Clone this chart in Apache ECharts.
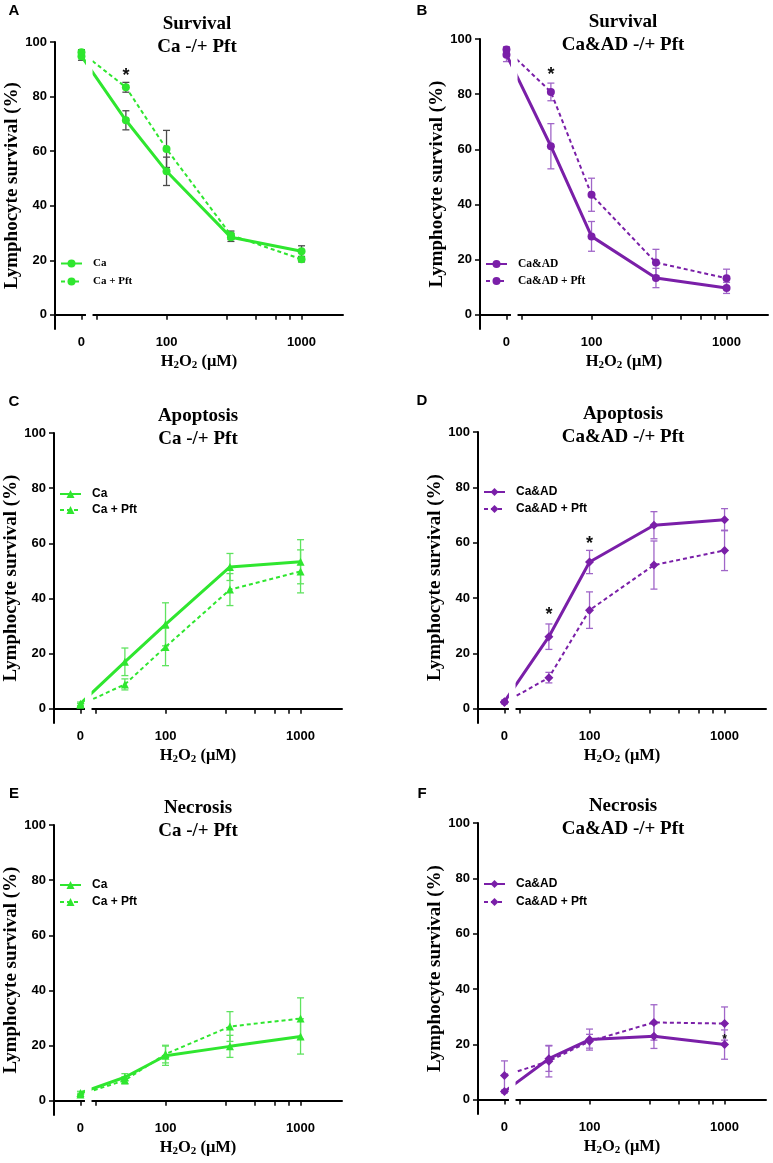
<!DOCTYPE html>
<html>
<head>
<meta charset="utf-8">
<script src="https://cdn.jsdelivr.net/npm/echarts@6/dist/echarts.min.js"></script>
<style>
html,body{margin:0;padding:0;background:#fff;}
#chart{width:773px;height:1163px;}
</style>
</head>
<body>
<div id="chart"></div>
<script>
// ---------------- DATA ----------------
const DOSES = [0, 50, 100, 300, 1000];            // H2O2 (µM)
const X_TICK_LABELS = [0, 100, 1000];
const X_MINOR_TICKS = [280, 460, 640, 820];
const Y_TICKS = [0, 20, 40, 60, 80, 100];

// A: Survival, Ca -/+ Pft
const A_CA = [94.8, 71.3, 52.6, 28.4, 23.3];
const A_CA_ERR = [1.5, 3.5, 5.2, 1.5, 2.0];
const A_PFT = [96.2, 83.4, 60.8, 29.2, 20.4];
const A_PFT_ERR = [1.0, 1.8, 6.8, 1.5, 1.0];
const A_STARS = [[50, 89.5]];

// B: Survival, Ca&AD -/+ Pft
const B_CA = [94.3, 61.1, 28.4, 13.3, 9.7];
const B_CA_ERR = [2.5, 8.2, 5.4, 3.5, 2.0];
const B_PFT = [96.2, 80.8, 43.5, 18.9, 13.2];
const B_PFT_ERR = [1.0, 3.2, 6.0, 4.8, 3.3];
const B_STARS = [[50, 88.7]];

// C: Apoptosis, Ca -/+ Pft
const C_CA = [1.8, 17.0, 30.6, 51.4, 53.3];
const C_CA_ERR = [0.6, 5.0, 7.8, 4.9, 8.0];
const C_PFT = [1.4, 8.8, 22.4, 43.2, 49.8];
const C_PFT_ERR = [0.5, 2.0, 6.8, 5.8, 7.8];
const C_STARS = [];

// D: Apoptosis, Ca&AD -/+ Pft
const D_CA = [2.5, 26.0, 53.0, 66.3, 68.3];
const D_CA_ERR = [0.6, 4.6, 4.2, 4.9, 4.0];
const D_PFT = [2.2, 11.2, 35.6, 51.9, 57.2];
const D_PFT_ERR = [0.5, 1.9, 6.6, 8.7, 7.3];
const D_STARS = [[50, 35.5], [100, 61.3]];

// E: Necrosis, Ca -/+ Pft
const E_CA = [2.8, 8.5, 16.3, 19.7, 23.3];
const E_CA_ERR = [0.6, 1.3, 3.5, 4.0, 6.4];
const E_PFT = [2.2, 7.4, 16.9, 26.9, 29.8];
const E_PFT_ERR = [0.5, 1.3, 3.2, 5.4, 7.5];
const E_STARS = [];

// F: Necrosis, Ca&AD -/+ Pft
const F_CA = [2.9, 14.8, 21.7, 22.9, 19.9];
const F_CA_ERR = [0.5, 4.6, 3.8, 4.4, 5.3];
const F_PFT = [8.7, 13.9, 21.1, 27.9, 27.5];
const F_PFT_ERR = [5.3, 5.7, 2.5, 6.4, 6.0];
const F_STARS = [[1000, 22.7]];

// ---------------- AXIS (broken: 0 | log10) ----------------
const U_MIN = 1.174, U_MAX = 3.307;   // axis extent in log10 units
const ZERO_U = 1.37;                   // position of the "0" segment tick
const SEG_U = 1.48;                    // start of log segment
const CLIP_U = 1.452;                  // where connecting lines reappear
function xu(d) { return d === 0 ? ZERO_U : Math.log10(d); }

const SERIF = "'Liberation Serif','Times New Roman',serif";
const SANS = "'Liberation Sans',Arial,sans-serif";
const GREEN = '#2fe62f', GREEN_ERR = '#5fe35f';
const PURPLE = '#7a1fa8', PURPLE_ERR = '#a066c8';

const PANELS = [
  {letter:'A', t:'Survival\nCa -/+ Pft', n1:'Ca', n2:'Ca + Pft', ca:A_CA, caE:A_CA_ERR, pf:A_PFT, pfE:A_PFT_ERR, stars:A_STARS,
   left:55, top:42, axisY:329, color:GREEN, err:'#4a4a4a', sym:'circle', symSize:8, legFont:SERIF, legSize:11, legGap:7, lx:14, ly:11, tx:197, ty:13, legTop:258, starSize:18},
  {letter:'B', t:'Survival\nCa&AD -/+ Pft', n1:'Ca&AD', n2:'Ca&AD + Pft', ca:B_CA, caE:B_CA_ERR, pf:B_PFT, pfE:B_PFT_ERR, stars:B_STARS,
   left:480, top:39, axisY:329, color:PURPLE, err:PURPLE_ERR, sym:'circle', symSize:8, legFont:SERIF, legSize:11.5, legGap:5, lx:422, ly:11, tx:623, ty:11, legTop:258, starSize:18},
  {letter:'C', t:'Apoptosis\nCa -/+ Pft', n1:'Ca', n2:'Ca + Pft', ca:C_CA, caE:C_CA_ERR, pf:C_PFT, pfE:C_PFT_ERR, stars:C_STARS,
   left:54, top:433, axisY:723, color:GREEN, err:GREEN_ERR, sym:'triangle', symSize:8, legFont:SANS, legSize:12, legGap:4, lx:14, ly:402, tx:198, ty:405, legTop:488, starSize:18},
  {letter:'D', t:'Apoptosis\nCa&AD -/+ Pft', n1:'Ca&AD', n2:'Ca&AD + Pft', ca:D_CA, caE:D_CA_ERR, pf:D_PFT, pfE:D_PFT_ERR, stars:D_STARS,
   left:478, top:432, axisY:723, color:PURPLE, err:PURPLE_ERR, sym:'diamond', symSize:9, legFont:SANS, legSize:12, legGap:5, lx:422, ly:401, tx:623, ty:403, legTop:486, starSize:18},
  {letter:'E', t:'Necrosis\nCa -/+ Pft', n1:'Ca', n2:'Ca + Pft', ca:E_CA, caE:E_CA_ERR, pf:E_PFT, pfE:E_PFT_ERR, stars:E_STARS,
   left:54, top:825, axisY:1115, color:GREEN, err:GREEN_ERR, sym:'triangle', symSize:8, legFont:SANS, legSize:12, legGap:5, lx:14, ly:794, tx:198, ty:797, legTop:879, starSize:18},
  {letter:'F', t:'Necrosis\nCa&AD -/+ Pft', n1:'Ca&AD', n2:'Ca&AD + Pft', ca:F_CA, caE:F_CA_ERR, pf:F_PFT, pfE:F_PFT_ERR, stars:F_STARS,
   left:478, top:823, axisY:1114, color:PURPLE, err:PURPLE_ERR, sym:'diamond', symSize:9, legFont:SANS, legSize:12, legGap:6, lx:422, ly:794, tx:623, ty:795, legTop:878, starSize:12}
];
const GRID_W = 288;
const Y_MIN = -5.2, Y_MAX = 100;

const grids = [], xAxes = [], yAxes = [], series = [], legends = [], graphics = [];

PANELS.forEach((p, i) => {
  const zw = '\u200b'.repeat(i);
  const name1 = p.n1 + zw, name2 = p.n2 + zw;
  grids.push({left: p.left, top: p.top, width: GRID_W, height: p.axisY - p.top});
  xAxes.push({
    gridIndex: i, type: 'value', min: U_MIN, max: U_MAX, z: 1,
    axisLine: {show: true, lineStyle: {color: '#000', width: 2}},
    axisTick: {show: true, length: 5, lineStyle: {color: '#000', width: 1.5},
      customValues: [ZERO_U, SEG_U, 2].concat(X_MINOR_TICKS.map(Math.log10), [3])},
    axisLabel: {show: true, customValues: X_TICK_LABELS.map(xu), margin: 7,
      formatter: v => Math.abs(v - ZERO_U) < 0.01 ? '0' : String(Math.round(Math.pow(10, v))),
      fontFamily: SANS, fontWeight: 'bold', fontSize: 13, color: '#000'},
    splitLine: {show: false},
    name: '{b|H}{s|2}{b|O}{s|2}{b| (μM)}', nameLocation: 'middle', nameGap: 23,
    nameTextStyle: {rich: {
      b: {fontFamily: SERIF, fontWeight: 'bold', fontSize: 16.5, color: '#000'},
      s: {fontFamily: SERIF, fontWeight: 'bold', fontSize: 11, color: '#000', padding: [8, 0, 0, 0]}
    }}
  });
  yAxes.push({
    gridIndex: i, type: 'value', min: Y_MIN, max: Y_MAX, z: 1,
    axisLine: {show: true, lineStyle: {color: '#000', width: 2}},
    axisTick: {show: true, length: 5, lineStyle: {color: '#000', width: 1.5}, customValues: Y_TICKS},
    axisLabel: {show: true, customValues: Y_TICKS, margin: 8, fontFamily: SANS, fontWeight: 'bold', fontSize: 13, color: '#000'},
    splitLine: {show: false},
    name: 'Lymphocyte survival (%)', nameLocation: 'middle', nameRotate: 90, nameGap: 33,
    nameTextStyle: {fontFamily: SERIF, fontWeight: 'bold', fontSize: 19, color: '#000'}
  });
  const errData = [];
  DOSES.forEach((d, k) => { errData.push([xu(d), p.ca[k], p.caE[k]]); errData.push([xu(d), p.pf[k], p.pfE[k]]); });
  const errColor = p.err;
  series.push({
    type: 'custom', xAxisIndex: i, yAxisIndex: i, data: errData, z: 2, silent: true,
    encode: {x: 0, y: 1},
    renderItem: (params, api) => {
      const x = api.value(0), y = api.value(1), e = api.value(2);
      const t = api.coord([x, y + e]), b = api.coord([x, y - e]);
      const hw = 3.5, st = {stroke: errColor, lineWidth: 1.3};
      return {type: 'group', children: [
        {type: 'line', shape: {x1: t[0], y1: t[1], x2: b[0], y2: b[1]}, style: st},
        {type: 'line', shape: {x1: t[0] - hw, y1: t[1], x2: t[0] + hw, y2: t[1]}, style: st},
        {type: 'line', shape: {x1: b[0] - hw, y1: b[1], x2: b[0] + hw, y2: b[1]}, style: st}
      ]};
    }
  });
  series.push({
    type: 'line', name: name1, xAxisIndex: i, yAxisIndex: i, z: 2,
    data: DOSES.map((d, k) => [xu(d), p.ca[k]]),
    symbol: p.sym, symbolSize: p.symSize, showAllSymbol: true,
    lineStyle: {color: p.color, width: 3}, itemStyle: {color: p.color}
  });
  series.push({
    type: 'line', name: name2, xAxisIndex: i, yAxisIndex: i, z: 2,
    data: DOSES.map((d, k) => [xu(d), p.pf[k]]),
    symbol: p.sym, symbolSize: p.symSize, showAllSymbol: true,
    lineStyle: {color: p.color, width: 2, type: [4, 3]}, itemStyle: {color: p.color}
  });
  if (p.stars.length) {
    const ss = p.starSize;
    series.push({
      type: 'custom', xAxisIndex: i, yAxisIndex: i, z: 2, silent: true,
      data: p.stars.map(s => [xu(s[0]), s[1]]), encode: {x: 0, y: 1},
      renderItem: (params, api) => {
        const c = api.coord([api.value(0), api.value(1)]);
        return {type: 'text', x: c[0], y: c[1] + ss * 0.28,
          style: {text: '*', font: 'bold ' + ss + 'px ' + SANS, fill: '#111', align: 'center', verticalAlign: 'middle'}};
      }
    });
  }
  // axis break: white masks over the gap between the "0" segment and the log segment
  series.push({
    type: 'custom', xAxisIndex: i, yAxisIndex: i, z: 3, silent: true, clip: false,
    data: [[ZERO_U, SEG_U, CLIP_U]], encode: {x: 0, y: -1},
    renderItem: (params, api) => {
      const x0 = api.coord([api.value(0), Y_MIN])[0];
      const xs = api.coord([api.value(1), Y_MIN])[0];
      const xc = api.coord([api.value(2), Y_MIN])[0];
      const yb = api.coord([ZERO_U, Y_MIN])[1];
      const yt = api.coord([ZERO_U, Y_MAX])[1];
      return {type: 'group', children: [
        {type: 'rect', shape: {x: x0 + 4.5, y: yt - 6, width: xc - x0 - 4.5, height: yb - 1.2 - (yt - 6)}, style: {fill: '#fff'}},
        {type: 'rect', shape: {x: x0 + 1.2, y: yb - 2, width: xs - x0 - 2.4, height: 4}, style: {fill: '#fff'}}
      ]};
    }
  });
  legends.push({
    orient: 'vertical', left: p.left + 5, top: p.legTop, z: 10, padding: 0,
    itemWidth: 21, itemHeight: 10, itemGap: p.legGap,
    data: [name1, name2],
    formatter: n => n.replace(/\u200b/g, ''),
    textStyle: {fontFamily: p.legFont, fontWeight: 'bold', fontSize: p.legSize, color: '#000', padding: [0, 0, 0, 6]}
  });
  // panel letter & title
  graphics.push({type: 'text', x: p.lx, y: p.ly, z: 10,
    style: {text: p.letter, font: 'bold 15px ' + SANS, fill: '#000', align: 'center', verticalAlign: 'middle'}});
  graphics.push({type: 'text', x: p.tx, y: p.ty, z: 10,
    style: {text: p.t, font: 'bold 19px ' + SERIF, fill: '#000', align: 'center', verticalAlign: 'top', lineHeight: 23}});
});

const chart = echarts.init(document.getElementById('chart'), null, {renderer: 'canvas'});
chart.setOption({
  animation: false,
  backgroundColor: '#fff',
  grid: grids, xAxis: xAxes, yAxis: yAxes, series: series, legend: legends,
  graphic: {elements: graphics}
});
</script>
</body>
</html>
